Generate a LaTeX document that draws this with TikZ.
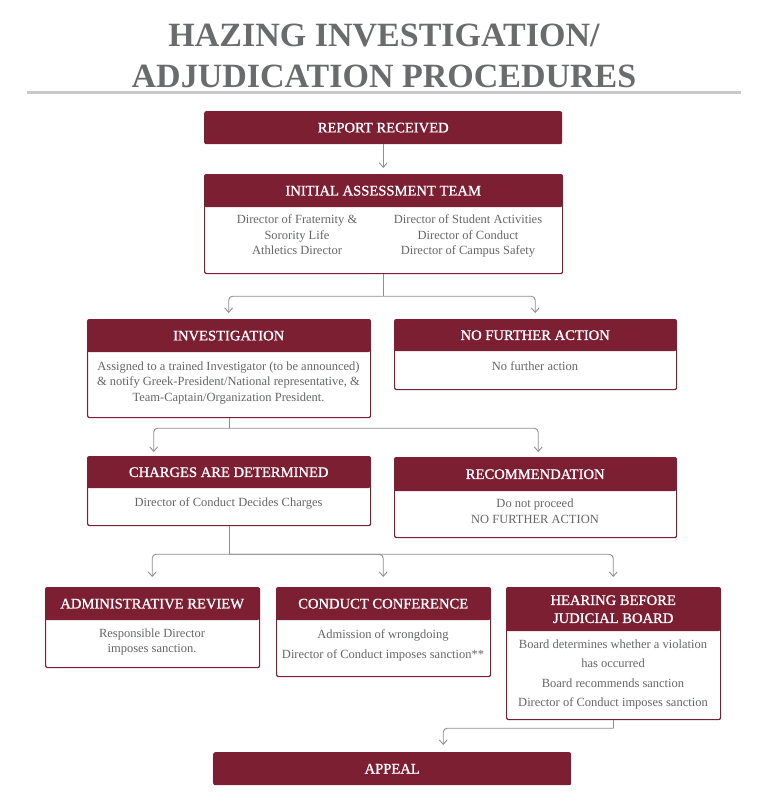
\documentclass[tikz,border=0pt]{standalone}
\usepackage{fontspec}
\setmainfont{Liberation Serif}
\newfontfamily\headfont[FakeBold=1.0]{Liberation Serif}
\usetikzlibrary{arrows.meta}
\definecolor{maroon}{HTML}{7D1F33}
\definecolor{txtgray}{HTML}{656668}
\definecolor{titlegray}{HTML}{6A6B6D}
\definecolor{conngray}{HTML}{8E8E8E}
\definecolor{rulegray}{HTML}{C9C9C9}
\newcommand{\myrow}[1]{\strut#1}
\begin{document}
\begin{tikzpicture}[x=1pt,y=-1pt,
  boxbody/.style={draw=maroon, line width=1.2pt, fill=white, rounded corners=2pt, anchor=north west, inner sep=0pt},
  head/.style={fill=maroon, rounded corners=2pt, anchor=north west, inner sep=0pt, text=white, font=\headfont\fontsize{14.6}{16}\selectfont, align=center},
  bodytxt/.style={text=txtgray, font=\fontsize{12.5}{15.5}\selectfont, align=center, inner sep=0pt, yshift=-1.5pt},
  titletxt/.style={text=titlegray, font=\fontsize{34}{36}\selectfont\bfseries, inner sep=0pt},
  conn/.style={draw=conngray, line width=0.9pt, rounded corners=4pt, -{Straight Barb[length=4.5pt,width=8pt]}, shorten >=6pt},
  plainline/.style={draw=conngray, line width=0.9pt}
]
\useasboundingbox (0,0) rectangle (763,800);
% title
\node[titletxt] (t1) at (384,36) {HAZING INVESTIGATION/};
\node[titletxt] (t2) at (384,76) {ADJUDICATION PROCEDURES};
\draw[rulegray, line width=3pt] (27,92) -- (741,92);
% report
\node[head, minimum width=358, minimum height=33] (rr) at (204,111) {REPORT RECEIVED};
% initial assessment team
\node[boxbody, minimum width=358, minimum height=99] (iat) at (204,174) {};
\node[head, minimum width=358, minimum height=33] (iath) at (204,174) {INITIAL ASSESSMENT TEAM};
\node[bodytxt] (iatl) at (297,234.5) {\myrow{Director of Fraternity \&}\\\myrow{Sorority Life}\\\myrow{Athletics Director}};
\node[bodytxt] (iatr) at (468,234.5) {\myrow{Director of Student Activities}\\\myrow{Director of Conduct}\\\myrow{Director of Campus Safety}};
% investigation
\node[boxbody, minimum width=283, minimum height=98] (inv) at (87,319) {};
\node[head, minimum width=283, minimum height=33] (invh) at (87,319) {INVESTIGATION};
\node[bodytxt] (invt) at (228.5,381) {\myrow{Assigned to a trained Investigator (to be announced)}\\\myrow{\& notify Greek-President/National representative, \&}\\\myrow{Team-Captain/Organization President.}};
% no further action
\node[boxbody, minimum width=282, minimum height=70] (nfa) at (394,319) {};
\node[head, minimum width=282, minimum height=32] (nfah) at (394,319) {NO FURTHER ACTION};
\node[bodytxt] (nfat) at (535,366) {\myrow{No further action}};
% charges
\node[boxbody, minimum width=283, minimum height=69] (chg) at (87,456) {};
\node[head, minimum width=283, minimum height=32] (chgh) at (87,456) {CHARGES ARE DETERMINED};
\node[bodytxt] (chgt) at (228.5,502) {\myrow{Director of Conduct Decides Charges}};
% recommendation
\node[boxbody, minimum width=282, minimum height=80] (rec) at (394,457) {};
\node[head, minimum width=282, minimum height=34] (rech) at (394,457) {RECOMMENDATION};
\node[bodytxt, font=\fontsize{12.5}{16}\selectfont] (rect) at (535,511) {\myrow{Do not proceed}\\\myrow{NO FURTHER ACTION}};
% administrative review
\node[boxbody, minimum width=214, minimum height=80] (adm) at (45,587) {};
\node[head, minimum width=214, minimum height=33] (admh) at (45,587) {ADMINISTRATIVE REVIEW};
\node[bodytxt, font=\fontsize{12.5}{15}\selectfont] (admt) at (152,640.5) {\myrow{Responsible Director}\\\myrow{imposes sanction.}};
% conduct conference
\node[boxbody, minimum width=214, minimum height=89] (ccf) at (276,587) {};
\node[head, minimum width=214, minimum height=33] (ccfh) at (276,587) {CONDUCT CONFERENCE};
\node[bodytxt, font=\fontsize{12.5}{20}\selectfont] (ccft) at (383,643) {\myrow{Admission of wrongdoing}\\\myrow{Director of Conduct imposes sanction**}};
% hearing
\node[boxbody, minimum width=214, minimum height=132] (hjb) at (506,587) {};
\node[head, minimum width=214, minimum height=44, font=\headfont\fontsize{14.6}{18}\selectfont] (hjbh) at (506,587) {HEARING BEFORE\\JUDICIAL BOARD};
\node[bodytxt, font=\fontsize{12.5}{19.3}\selectfont] (hjbt) at (613,672) {\myrow{Board determines whether a violation}\\\myrow{has occurred}\\\myrow{Board recommends sanction}\\\myrow{Director of Conduct imposes sanction}};
% appeal
\node[head, minimum width=358, minimum height=33] (app) at (213,752) {APPEAL};
% connectors
\draw[conn] (rr.south) -- (iath.north);
\draw[plainline] (iat.south) -- ++(0,22) coordinate (b1);
\draw[conn] (b1) -| (invh.north);
\draw[conn] (b1) -| (nfah.north);
\draw[plainline] (inv.south) -- ++(0,10) coordinate (b2);
\draw[conn, shorten >=4pt] (b2) -| ([xshift=-75pt]chgh.north);
\draw[conn, shorten >=5pt] (b2) -| ([xshift=3pt]rech.north);
\draw[plainline] (chg.south) -- ++(0,28) coordinate (b3);
\draw[conn, shorten >=10pt] (b3) -| (admh.north);
\draw[conn, shorten >=10pt] (b3) -| (ccfh.north);
\draw[conn, shorten >=10pt] (b3) -| (hjbh.north);
\draw[plainline] (hjb.south) -- ++(0,8) coordinate (b4);
\draw[conn, shorten >=7pt] (b4) -| ([xshift=51pt]app.north);
\end{tikzpicture}
\end{document}
